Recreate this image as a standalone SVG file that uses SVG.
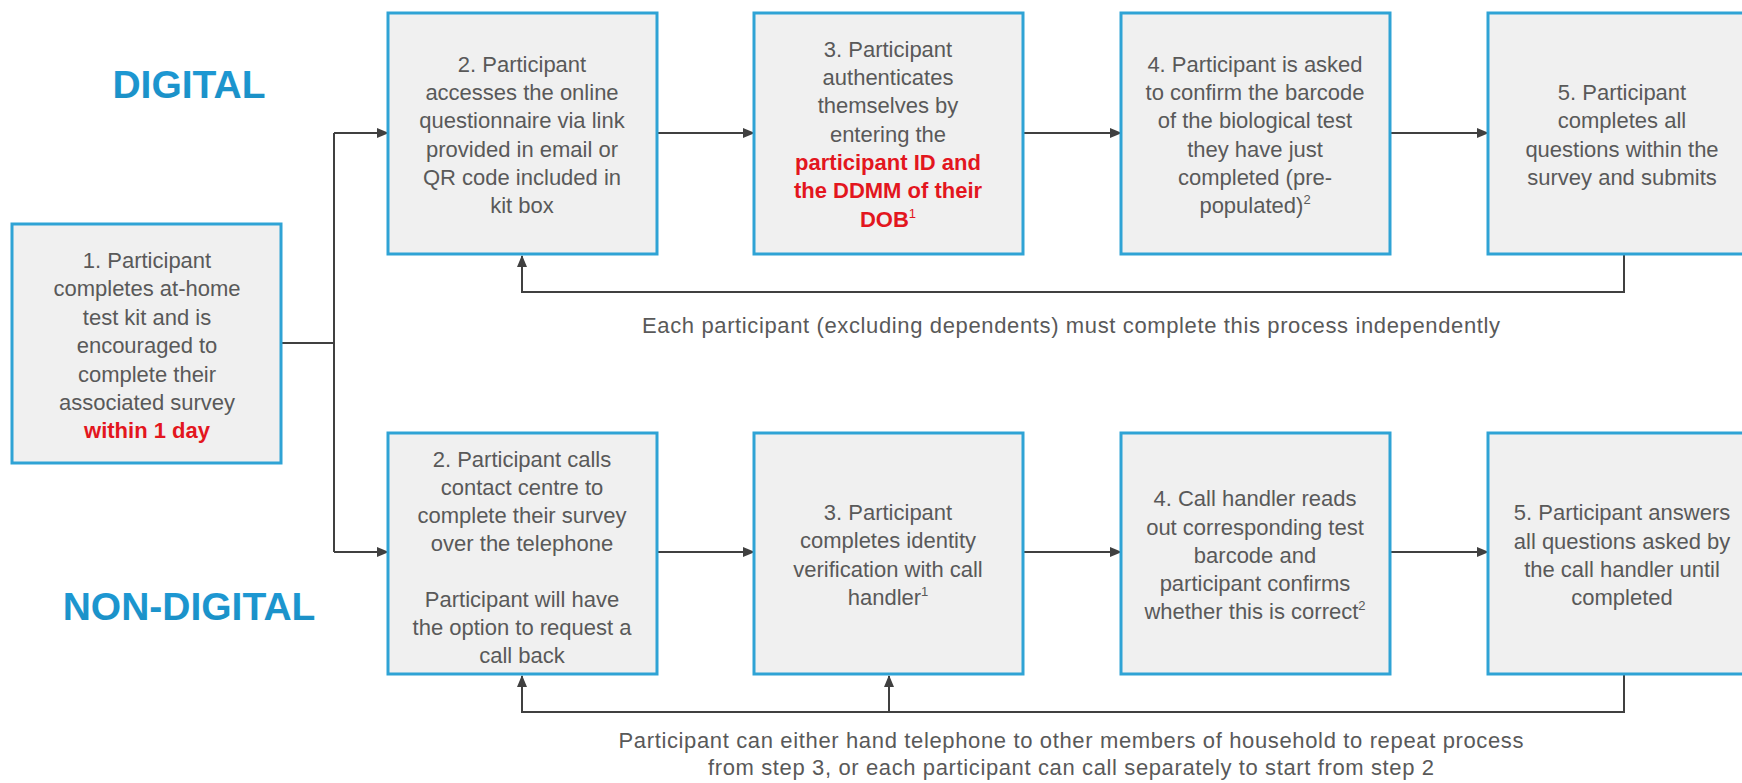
<svg xmlns="http://www.w3.org/2000/svg" width="1742" height="783" viewBox="0 0 1742 783">
<defs>
<marker id="arr" markerWidth="12" markerHeight="10" refX="11" refY="5" orient="auto" markerUnits="userSpaceOnUse">
<path d="M0,0 L12,5 L0,10 Z" fill="#404040"/>
</marker>
<linearGradient id="blue" x1="0" y1="0" x2="0" y2="1">
<stop offset="0" stop-color="#1e9ad6"/>
<stop offset="1" stop-color="#1a8fc4"/>
</linearGradient>
</defs>
<style>
.box{fill:#f0f0f0;stroke:#2fa3d5;stroke-width:3}
.t{font-family:"Liberation Sans",Arial,sans-serif;font-size:22px;fill:#595959;text-anchor:middle}
.r{fill:#e3161e;font-weight:bold}
.h{font-family:"Liberation Sans",Arial,sans-serif;font-size:39px;font-weight:bold;fill:url(#blue);text-anchor:middle}
.c{fill:none;stroke:#404040;stroke-width:2}
.sup{font-size:13px}
</style>
<rect width="1742" height="783" fill="#ffffff"/>

<g id="label-digital"><text class="h" x="189" y="98">DIGITAL</text></g>
<g id="label-nondigital"><text class="h" x="189" y="620">NON-DIGITAL</text></g>

<g id="connectors">
<path class="c" d="M281,343 H334"/>
<path class="c" d="M334,133 V552"/>
<path class="c" d="M334,133 H388" marker-end="url(#arr)"/>
<path class="c" d="M334,552 H388" marker-end="url(#arr)"/>
<path class="c" d="M657,133 H754" marker-end="url(#arr)"/>
<path class="c" d="M1023,133 H1121" marker-end="url(#arr)"/>
<path class="c" d="M1390,133 H1488" marker-end="url(#arr)"/>
<path class="c" d="M1624,254 V292 H522 V256" marker-end="url(#arr)"/>
<path class="c" d="M657,552 H754" marker-end="url(#arr)"/>
<path class="c" d="M1023,552 H1121" marker-end="url(#arr)"/>
<path class="c" d="M1390,552 H1488" marker-end="url(#arr)"/>
<path class="c" d="M1624,674 V712 H522 V676" marker-end="url(#arr)"/>
<path class="c" d="M889,712 V676" marker-end="url(#arr)"/>
</g>

<g id="node-1">
<rect class="box" x="12" y="224" width="269" height="239"/>
<text class="t" x="147" y="268">1. Participant</text>
<text class="t" x="147" y="296">completes at-home</text>
<text class="t" x="147" y="325">test kit and is</text>
<text class="t" x="147" y="353">encouraged to</text>
<text class="t" x="147" y="382">complete their</text>
<text class="t" x="147" y="410">associated survey</text>
<text class="t r" x="147" y="438">within 1 day</text>
</g>

<g id="node-d2">
<rect class="box" x="388" y="13" width="269" height="241"/>
<text class="t" x="522" y="72">2. Participant</text>
<text class="t" x="522" y="100">accesses the online</text>
<text class="t" x="522" y="128">questionnaire via link</text>
<text class="t" x="522" y="157">provided in email or</text>
<text class="t" x="522" y="185">QR code included in</text>
<text class="t" x="522" y="213">kit box</text>
</g>

<g id="node-d3">
<rect class="box" x="754" y="13" width="269" height="241"/>
<text class="t" x="888" y="57">3. Participant</text>
<text class="t" x="888" y="85">authenticates</text>
<text class="t" x="888" y="113">themselves by</text>
<text class="t" x="888" y="142">entering the</text>
<text class="t r" x="888" y="170">participant ID and</text>
<text class="t r" x="888" y="198">the DDMM of their</text>
<text class="t r" x="888" y="227">DOB<tspan class="sup" dy="-9" font-weight="normal">1</tspan></text>
</g>

<g id="node-d4">
<rect class="box" x="1121" y="13" width="269" height="241"/>
<text class="t" x="1255" y="72">4. Participant is asked</text>
<text class="t" x="1255" y="100">to confirm the barcode</text>
<text class="t" x="1255" y="128">of the biological test</text>
<text class="t" x="1255" y="157">they have just</text>
<text class="t" x="1255" y="185">completed (pre-</text>
<text class="t" x="1255" y="213">populated)<tspan class="sup" dy="-9">2</tspan></text>
</g>

<g id="node-d5">
<rect class="box" x="1488" y="13" width="269" height="241"/>
<text class="t" x="1622" y="100">5. Participant</text>
<text class="t" x="1622" y="128">completes all</text>
<text class="t" x="1622" y="157">questions within the</text>
<text class="t" x="1622" y="185">survey and submits</text>
</g>

<g id="note-digital">
<text class="t" x="1071" y="333" textLength="858" lengthAdjust="spacing">Each participant (excluding dependents) must complete this process independently</text>
</g>

<g id="node-n2">
<rect class="box" x="388" y="433" width="269" height="241"/>
<text class="t" x="522" y="467">2. Participant calls</text>
<text class="t" x="522" y="495">contact centre to</text>
<text class="t" x="522" y="523">complete their survey</text>
<text class="t" x="522" y="551">over the telephone</text>
<text class="t" x="522" y="607">Participant will have</text>
<text class="t" x="522" y="635">the option to request a</text>
<text class="t" x="522" y="663">call back</text>
</g>

<g id="node-n3">
<rect class="box" x="754" y="433" width="269" height="241"/>
<text class="t" x="888" y="520">3. Participant</text>
<text class="t" x="888" y="548">completes identity</text>
<text class="t" x="888" y="577">verification with call</text>
<text class="t" x="888" y="605">handler<tspan class="sup" dy="-9">1</tspan></text>
</g>

<g id="node-n4">
<rect class="box" x="1121" y="433" width="269" height="241"/>
<text class="t" x="1255" y="506">4. Call handler reads</text>
<text class="t" x="1255" y="535">out corresponding test</text>
<text class="t" x="1255" y="563">barcode and</text>
<text class="t" x="1255" y="591">participant confirms</text>
<text class="t" x="1255" y="619">whether this is correct<tspan class="sup" dy="-9">2</tspan></text>
</g>

<g id="node-n5">
<rect class="box" x="1488" y="433" width="269" height="241"/>
<text class="t" x="1622" y="520">5. Participant answers</text>
<text class="t" x="1622" y="549">all questions asked by</text>
<text class="t" x="1622" y="577">the call handler until</text>
<text class="t" x="1622" y="605">completed</text>
</g>

<g id="note-nondigital">
<text class="t" x="1071" y="748" textLength="905" lengthAdjust="spacing">Participant can either hand telephone to other members of household to repeat process</text>
<text class="t" x="1071" y="775" textLength="726" lengthAdjust="spacing">from step 3, or each participant can call separately to start from step 2</text>
</g>
</svg>
